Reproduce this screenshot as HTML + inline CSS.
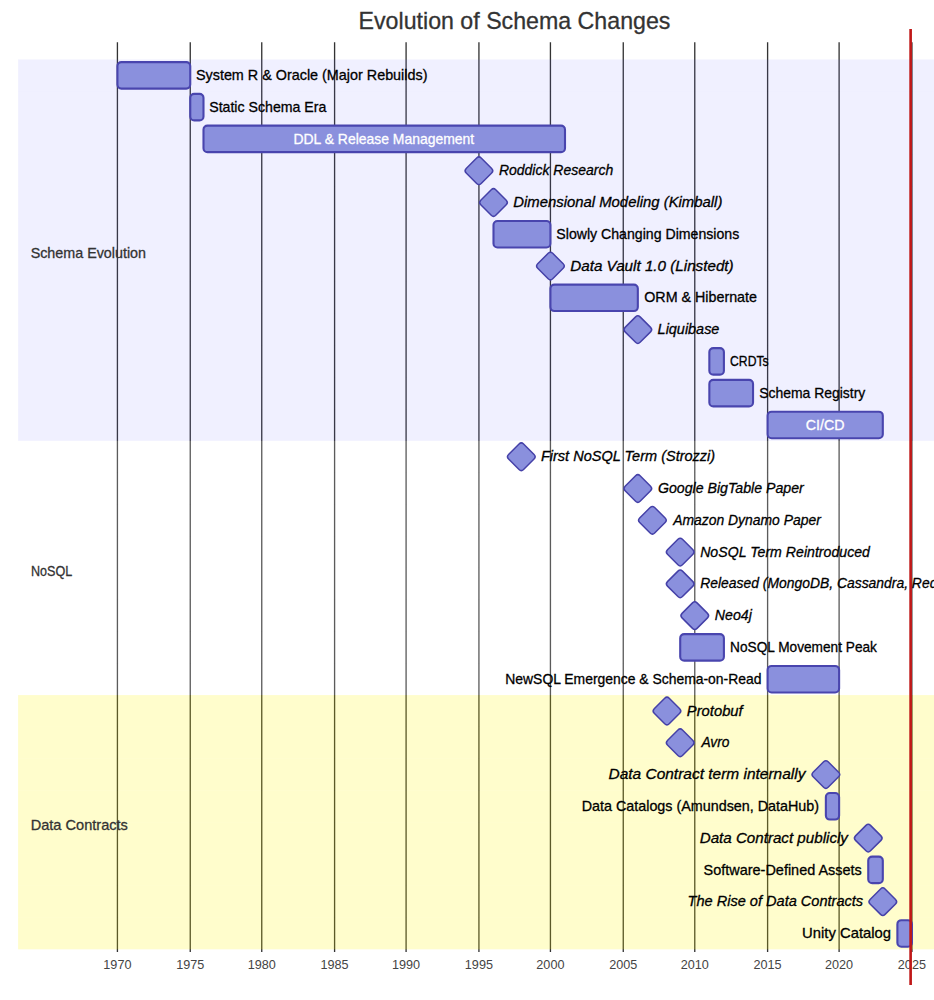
<!DOCTYPE html>
<html><head><meta charset="utf-8"><style>
html,body{margin:0;padding:0;background:#fff;width:934px;height:1000px;overflow:hidden;}
svg{display:block;font-family:"Liberation Sans", sans-serif;}
</style></head><body>
<svg width="934" height="1000" viewBox="0 0 934 1000">
<rect x="0" y="0" width="934" height="1000" fill="#ffffff"/>
<line x1="117.42" y1="42.25" x2="117.42" y2="951.98" stroke="#333333" stroke-width="1.324"/>
<line x1="190.25" y1="42.25" x2="190.25" y2="951.98" stroke="#333333" stroke-width="1.324"/>
<line x1="261.75" y1="42.25" x2="261.75" y2="951.98" stroke="#333333" stroke-width="1.324"/>
<line x1="334.59" y1="42.25" x2="334.59" y2="951.98" stroke="#333333" stroke-width="1.324"/>
<line x1="406.09" y1="42.25" x2="406.09" y2="951.98" stroke="#333333" stroke-width="1.324"/>
<line x1="478.93" y1="42.25" x2="478.93" y2="951.98" stroke="#333333" stroke-width="1.324"/>
<line x1="550.43" y1="42.25" x2="550.43" y2="951.98" stroke="#333333" stroke-width="1.324"/>
<line x1="623.26" y1="42.25" x2="623.26" y2="951.98" stroke="#333333" stroke-width="1.324"/>
<line x1="694.77" y1="42.25" x2="694.77" y2="951.98" stroke="#333333" stroke-width="1.324"/>
<line x1="767.60" y1="42.25" x2="767.60" y2="951.98" stroke="#333333" stroke-width="1.324"/>
<line x1="839.11" y1="42.25" x2="839.11" y2="951.98" stroke="#333333" stroke-width="1.324"/>
<line x1="911.94" y1="42.25" x2="911.94" y2="951.98" stroke="#333333" stroke-width="1.324"/>
<rect x="18.10" y="59.46" width="934" height="31.781" fill="rgb(102,102,255)" fill-opacity="0.098"/>
<rect x="18.10" y="91.24" width="934" height="31.781" fill="rgb(102,102,255)" fill-opacity="0.098"/>
<rect x="18.10" y="123.02" width="934" height="31.781" fill="rgb(102,102,255)" fill-opacity="0.098"/>
<rect x="18.10" y="154.81" width="934" height="31.781" fill="rgb(102,102,255)" fill-opacity="0.098"/>
<rect x="18.10" y="186.59" width="934" height="31.781" fill="rgb(102,102,255)" fill-opacity="0.098"/>
<rect x="18.10" y="218.37" width="934" height="31.781" fill="rgb(102,102,255)" fill-opacity="0.098"/>
<rect x="18.10" y="250.15" width="934" height="31.781" fill="rgb(102,102,255)" fill-opacity="0.098"/>
<rect x="18.10" y="281.93" width="934" height="31.781" fill="rgb(102,102,255)" fill-opacity="0.098"/>
<rect x="18.10" y="313.71" width="934" height="31.781" fill="rgb(102,102,255)" fill-opacity="0.098"/>
<rect x="18.10" y="345.49" width="934" height="31.781" fill="rgb(102,102,255)" fill-opacity="0.098"/>
<rect x="18.10" y="377.27" width="934" height="31.781" fill="rgb(102,102,255)" fill-opacity="0.098"/>
<rect x="18.10" y="409.05" width="934" height="31.781" fill="rgb(102,102,255)" fill-opacity="0.098"/>
<rect x="18.10" y="440.83" width="934" height="31.781" fill="#ffffff" fill-opacity="0.2"/>
<rect x="18.10" y="472.62" width="934" height="31.781" fill="#ffffff" fill-opacity="0.2"/>
<rect x="18.10" y="504.40" width="934" height="31.781" fill="#ffffff" fill-opacity="0.2"/>
<rect x="18.10" y="536.18" width="934" height="31.781" fill="#ffffff" fill-opacity="0.2"/>
<rect x="18.10" y="567.96" width="934" height="31.781" fill="#ffffff" fill-opacity="0.2"/>
<rect x="18.10" y="599.74" width="934" height="31.781" fill="#ffffff" fill-opacity="0.2"/>
<rect x="18.10" y="631.52" width="934" height="31.781" fill="#ffffff" fill-opacity="0.2"/>
<rect x="18.10" y="663.30" width="934" height="31.781" fill="#ffffff" fill-opacity="0.2"/>
<rect x="18.10" y="695.08" width="934" height="31.781" fill="#fff400" fill-opacity="0.2"/>
<rect x="18.10" y="726.86" width="934" height="31.781" fill="#fff400" fill-opacity="0.2"/>
<rect x="18.10" y="758.64" width="934" height="31.781" fill="#fff400" fill-opacity="0.2"/>
<rect x="18.10" y="790.43" width="934" height="31.781" fill="#fff400" fill-opacity="0.2"/>
<rect x="18.10" y="822.21" width="934" height="31.781" fill="#fff400" fill-opacity="0.2"/>
<rect x="18.10" y="853.99" width="934" height="31.781" fill="#fff400" fill-opacity="0.2"/>
<rect x="18.10" y="885.77" width="934" height="31.781" fill="#fff400" fill-opacity="0.2"/>
<rect x="18.10" y="917.55" width="934" height="31.781" fill="#fff400" fill-opacity="0.2"/>
<rect x="117.42" y="62.11" width="72.83" height="26.484" rx="3.97" ry="3.97" fill="#8a90dd" stroke="#4945ae" stroke-width="2.100"/>
<text x="195.94" y="79.99" font-size="14.57" fill="#000" stroke="#000" stroke-width="0.3" textLength="231.52" lengthAdjust="spacingAndGlyphs">System R &amp; Oracle (Major Rebuilds)</text>
<rect x="190.25" y="93.89" width="13.24" height="26.484" rx="3.97" ry="3.97" fill="#8a90dd" stroke="#4945ae" stroke-width="2.100"/>
<text x="209.22" y="111.77" font-size="14.57" fill="#000" stroke="#000" stroke-width="0.3" textLength="117.12" lengthAdjust="spacingAndGlyphs">Static Schema Era</text>
<rect x="203.49" y="125.67" width="361.51" height="26.484" rx="3.97" ry="3.97" fill="#8a90dd" stroke="#4945ae" stroke-width="2.100"/>
<text x="383.80" y="143.55" font-size="14.57" fill="#fff" stroke="#fff" stroke-width="0.3" text-anchor="middle" textLength="180.69" lengthAdjust="spacingAndGlyphs">DDL &amp; Release Management</text>
<rect x="468.33" y="160.10" width="21.19" height="21.19" rx="3.18" ry="3.18" transform="rotate(45 478.93 170.70)" fill="#8a90dd" stroke="#4541a8" stroke-width="1.500"/>
<text x="498.91" y="175.33" font-size="14.57" fill="#000" stroke="#000" stroke-width="0.3" font-style="italic" textLength="114.35" lengthAdjust="spacingAndGlyphs">Roddick Research</text>
<rect x="482.90" y="191.88" width="21.19" height="21.19" rx="3.18" ry="3.18" transform="rotate(45 493.49 202.48)" fill="#8a90dd" stroke="#4541a8" stroke-width="1.500"/>
<text x="513.27" y="207.11" font-size="14.57" fill="#000" stroke="#000" stroke-width="0.3" font-style="italic" textLength="209.07" lengthAdjust="spacingAndGlyphs">Dimensional Modeling (Kimball)</text>
<rect x="493.49" y="221.02" width="56.94" height="26.484" rx="3.97" ry="3.97" fill="#8a90dd" stroke="#4945ae" stroke-width="2.100"/>
<text x="556.34" y="238.89" font-size="14.57" fill="#000" stroke="#000" stroke-width="0.3" textLength="182.93" lengthAdjust="spacingAndGlyphs">Slowly Changing Dimensions</text>
<rect x="539.84" y="255.45" width="21.19" height="21.19" rx="3.18" ry="3.18" transform="rotate(45 550.43 266.04)" fill="#8a90dd" stroke="#4541a8" stroke-width="1.500"/>
<text x="570.22" y="270.67" font-size="14.57" fill="#000" stroke="#000" stroke-width="0.3" font-style="italic" textLength="163.41" lengthAdjust="spacingAndGlyphs">Data Vault 1.0 (Linstedt)</text>
<rect x="550.43" y="284.58" width="87.40" height="26.484" rx="3.97" ry="3.97" fill="#8a90dd" stroke="#4945ae" stroke-width="2.100"/>
<text x="644.22" y="302.45" font-size="14.57" fill="#000" stroke="#000" stroke-width="0.3" textLength="112.76" lengthAdjust="spacingAndGlyphs">ORM &amp; Hibernate</text>
<rect x="627.24" y="319.01" width="21.19" height="21.19" rx="3.18" ry="3.18" transform="rotate(45 637.83 329.60)" fill="#8a90dd" stroke="#4541a8" stroke-width="1.500"/>
<text x="657.61" y="334.24" font-size="14.57" fill="#000" stroke="#000" stroke-width="0.3" font-style="italic" textLength="61.79" lengthAdjust="spacingAndGlyphs">Liquibase</text>
<rect x="709.34" y="348.14" width="14.57" height="26.484" rx="3.97" ry="3.97" fill="#8a90dd" stroke="#4945ae" stroke-width="2.100"/>
<text x="730.05" y="366.02" font-size="14.57" fill="#000" stroke="#000" stroke-width="0.3" textLength="38.56" lengthAdjust="spacingAndGlyphs">CRDTs</text>
<rect x="709.34" y="379.92" width="43.70" height="26.484" rx="3.97" ry="3.97" fill="#8a90dd" stroke="#4945ae" stroke-width="2.100"/>
<text x="759.17" y="397.80" font-size="14.57" fill="#000" stroke="#000" stroke-width="0.3" textLength="106.16" lengthAdjust="spacingAndGlyphs">Schema Registry</text>
<rect x="767.60" y="411.70" width="115.21" height="26.484" rx="3.97" ry="3.97" fill="#8a90dd" stroke="#4945ae" stroke-width="2.100"/>
<text x="825.18" y="429.58" font-size="14.57" fill="#fff" stroke="#fff" stroke-width="0.3" text-anchor="middle" textLength="38.78" lengthAdjust="spacingAndGlyphs">CI/CD</text>
<rect x="510.71" y="446.13" width="21.19" height="21.19" rx="3.18" ry="3.18" transform="rotate(45 521.30 456.73)" fill="#8a90dd" stroke="#4541a8" stroke-width="1.500"/>
<text x="540.93" y="461.36" font-size="14.57" fill="#000" stroke="#000" stroke-width="0.3" font-style="italic" textLength="174.25" lengthAdjust="spacingAndGlyphs">First NoSQL Term (Strozzi)</text>
<rect x="627.24" y="477.91" width="21.19" height="21.19" rx="3.18" ry="3.18" transform="rotate(45 637.83 488.51)" fill="#8a90dd" stroke="#4541a8" stroke-width="1.500"/>
<text x="657.88" y="493.14" font-size="14.57" fill="#000" stroke="#000" stroke-width="0.3" font-style="italic" textLength="145.97" lengthAdjust="spacingAndGlyphs">Google BigTable Paper</text>
<rect x="641.80" y="509.69" width="21.19" height="21.19" rx="3.18" ry="3.18" transform="rotate(45 652.40 520.29)" fill="#8a90dd" stroke="#4541a8" stroke-width="1.500"/>
<text x="673.17" y="524.92" font-size="14.57" fill="#000" stroke="#000" stroke-width="0.3" font-style="italic" textLength="147.61" lengthAdjust="spacingAndGlyphs">Amazon Dynamo Paper</text>
<rect x="669.61" y="541.47" width="21.19" height="21.19" rx="3.18" ry="3.18" transform="rotate(45 680.21 552.07)" fill="#8a90dd" stroke="#4541a8" stroke-width="1.500"/>
<text x="700.16" y="556.70" font-size="14.57" fill="#000" stroke="#000" stroke-width="0.3" font-style="italic" textLength="169.80" lengthAdjust="spacingAndGlyphs">NoSQL Term Reintroduced</text>
<rect x="669.61" y="573.26" width="21.19" height="21.19" rx="3.18" ry="3.18" transform="rotate(45 680.21 583.85)" fill="#8a90dd" stroke="#4541a8" stroke-width="1.500"/>
<text x="700.16" y="588.48" font-size="14.57" fill="#000" stroke="#000" stroke-width="0.3" font-style="italic" textLength="251.88" lengthAdjust="spacingAndGlyphs">Released (MongoDB, Cassandra, Redis)</text>
<rect x="684.18" y="605.04" width="21.19" height="21.19" rx="3.18" ry="3.18" transform="rotate(45 694.77 615.63)" fill="#8a90dd" stroke="#4541a8" stroke-width="1.500"/>
<text x="714.83" y="620.27" font-size="14.57" fill="#000" stroke="#000" stroke-width="0.3" font-style="italic" textLength="37.07" lengthAdjust="spacingAndGlyphs">Neo4j</text>
<rect x="680.21" y="634.17" width="43.70" height="26.484" rx="3.97" ry="3.97" fill="#8a90dd" stroke="#4945ae" stroke-width="2.100"/>
<text x="730.09" y="652.05" font-size="14.57" fill="#000" stroke="#000" stroke-width="0.3" textLength="146.87" lengthAdjust="spacingAndGlyphs">NoSQL Movement Peak</text>
<rect x="767.60" y="665.95" width="71.51" height="26.484" rx="3.97" ry="3.97" fill="#8a90dd" stroke="#4945ae" stroke-width="2.100"/>
<text x="761.46" y="683.83" font-size="14.57" fill="#000" stroke="#000" stroke-width="0.3" text-anchor="end" textLength="256.15" lengthAdjust="spacingAndGlyphs">NewSQL Emergence &amp; Schema-on-Read</text>
<rect x="656.37" y="700.38" width="21.19" height="21.19" rx="3.18" ry="3.18" transform="rotate(45 666.96 710.97)" fill="#8a90dd" stroke="#4541a8" stroke-width="1.500"/>
<text x="686.84" y="715.61" font-size="14.57" fill="#000" stroke="#000" stroke-width="0.3" font-style="italic" textLength="55.85" lengthAdjust="spacingAndGlyphs">Protobuf</text>
<rect x="669.61" y="732.16" width="21.19" height="21.19" rx="3.18" ry="3.18" transform="rotate(45 680.21 742.75)" fill="#8a90dd" stroke="#4541a8" stroke-width="1.500"/>
<text x="701.45" y="747.39" font-size="14.57" fill="#000" stroke="#000" stroke-width="0.3" font-style="italic" textLength="28.05" lengthAdjust="spacingAndGlyphs">Avro</text>
<rect x="815.27" y="763.94" width="21.19" height="21.19" rx="3.18" ry="3.18" transform="rotate(45 825.87 774.54)" fill="#8a90dd" stroke="#4541a8" stroke-width="1.500"/>
<text x="805.38" y="779.17" font-size="14.57" fill="#000" stroke="#000" stroke-width="0.3" text-anchor="end" font-style="italic" textLength="196.87" lengthAdjust="spacingAndGlyphs">Data Contract term internally</text>
<rect x="825.87" y="793.07" width="13.24" height="26.484" rx="3.97" ry="3.97" fill="#8a90dd" stroke="#4945ae" stroke-width="2.100"/>
<text x="819.07" y="810.95" font-size="14.57" fill="#000" stroke="#000" stroke-width="0.3" text-anchor="end" textLength="237.38" lengthAdjust="spacingAndGlyphs">Data Catalogs (Amundsen, DataHub)</text>
<rect x="857.65" y="827.50" width="21.19" height="21.19" rx="3.18" ry="3.18" transform="rotate(45 868.24 838.10)" fill="#8a90dd" stroke="#4541a8" stroke-width="1.500"/>
<text x="847.92" y="842.73" font-size="14.57" fill="#000" stroke="#000" stroke-width="0.3" text-anchor="end" font-style="italic" textLength="148.22" lengthAdjust="spacingAndGlyphs">Data Contract publicly</text>
<rect x="868.24" y="856.64" width="14.57" height="26.484" rx="3.97" ry="3.97" fill="#8a90dd" stroke="#4945ae" stroke-width="2.100"/>
<text x="861.83" y="874.51" font-size="14.57" fill="#000" stroke="#000" stroke-width="0.3" text-anchor="end" textLength="158.24" lengthAdjust="spacingAndGlyphs">Software-Defined Assets</text>
<rect x="872.22" y="891.07" width="21.19" height="21.19" rx="3.18" ry="3.18" transform="rotate(45 882.81 901.66)" fill="#8a90dd" stroke="#4541a8" stroke-width="1.500"/>
<text x="863.16" y="906.29" font-size="14.57" fill="#000" stroke="#000" stroke-width="0.3" text-anchor="end" font-style="italic" textLength="175.58" lengthAdjust="spacingAndGlyphs">The Rise of Data Contracts</text>
<rect x="897.38" y="920.20" width="14.57" height="26.484" rx="3.97" ry="3.97" fill="#8a90dd" stroke="#4945ae" stroke-width="2.100"/>
<text x="891.11" y="938.08" font-size="14.57" fill="#000" stroke="#000" stroke-width="0.3" text-anchor="end" textLength="88.97" lengthAdjust="spacingAndGlyphs">Unity Catalog</text>
<text x="30.67" y="252.80" dy="0.35em" font-size="14.57" fill="#333" stroke="#333" stroke-width="0.3" textLength="115.39" lengthAdjust="spacingAndGlyphs">Schema Evolution</text>
<text x="30.97" y="570.61" dy="0.35em" font-size="14.57" fill="#333" stroke="#333" stroke-width="0.3" textLength="41.28" lengthAdjust="spacingAndGlyphs">NoSQL</text>
<text x="30.70" y="824.86" dy="0.35em" font-size="14.57" fill="#333" stroke="#333" stroke-width="0.3" textLength="97.22" lengthAdjust="spacingAndGlyphs">Data Contracts</text>
<text x="117.39" y="959.95" dy="0.71em" font-size="13.24" fill="#444" text-anchor="middle" textLength="28.12" lengthAdjust="spacingAndGlyphs">1970</text>
<text x="190.22" y="959.95" dy="0.71em" font-size="13.24" fill="#444" text-anchor="middle" textLength="28.12" lengthAdjust="spacingAndGlyphs">1975</text>
<text x="261.72" y="959.95" dy="0.71em" font-size="13.24" fill="#444" text-anchor="middle" textLength="28.12" lengthAdjust="spacingAndGlyphs">1980</text>
<text x="334.56" y="959.95" dy="0.71em" font-size="13.24" fill="#444" text-anchor="middle" textLength="28.12" lengthAdjust="spacingAndGlyphs">1985</text>
<text x="406.06" y="959.95" dy="0.71em" font-size="13.24" fill="#444" text-anchor="middle" textLength="28.12" lengthAdjust="spacingAndGlyphs">1990</text>
<text x="478.89" y="959.95" dy="0.71em" font-size="13.24" fill="#444" text-anchor="middle" textLength="28.12" lengthAdjust="spacingAndGlyphs">1995</text>
<text x="550.40" y="959.95" dy="0.71em" font-size="13.24" fill="#444" text-anchor="middle" textLength="28.12" lengthAdjust="spacingAndGlyphs">2000</text>
<text x="623.23" y="959.95" dy="0.71em" font-size="13.24" fill="#444" text-anchor="middle" textLength="28.12" lengthAdjust="spacingAndGlyphs">2005</text>
<text x="694.74" y="959.95" dy="0.71em" font-size="13.24" fill="#444" text-anchor="middle" textLength="28.12" lengthAdjust="spacingAndGlyphs">2010</text>
<text x="767.57" y="959.95" dy="0.71em" font-size="13.24" fill="#444" text-anchor="middle" textLength="28.12" lengthAdjust="spacingAndGlyphs">2015</text>
<text x="839.08" y="959.95" dy="0.71em" font-size="13.24" fill="#444" text-anchor="middle" textLength="28.12" lengthAdjust="spacingAndGlyphs">2020</text>
<text x="911.91" y="959.95" dy="0.71em" font-size="13.24" fill="#444" text-anchor="middle" textLength="28.12" lengthAdjust="spacingAndGlyphs">2025</text>
<line x1="910.62" y1="29.01" x2="910.62" y2="985.08" stroke="#c01818" stroke-width="2.648"/>
<text x="514.50" y="29.01" font-size="23.84" fill="#333" stroke="#333" stroke-width="0.3" text-anchor="middle" textLength="311.89" lengthAdjust="spacingAndGlyphs">Evolution of Schema Changes</text>
</svg>
</body></html>
